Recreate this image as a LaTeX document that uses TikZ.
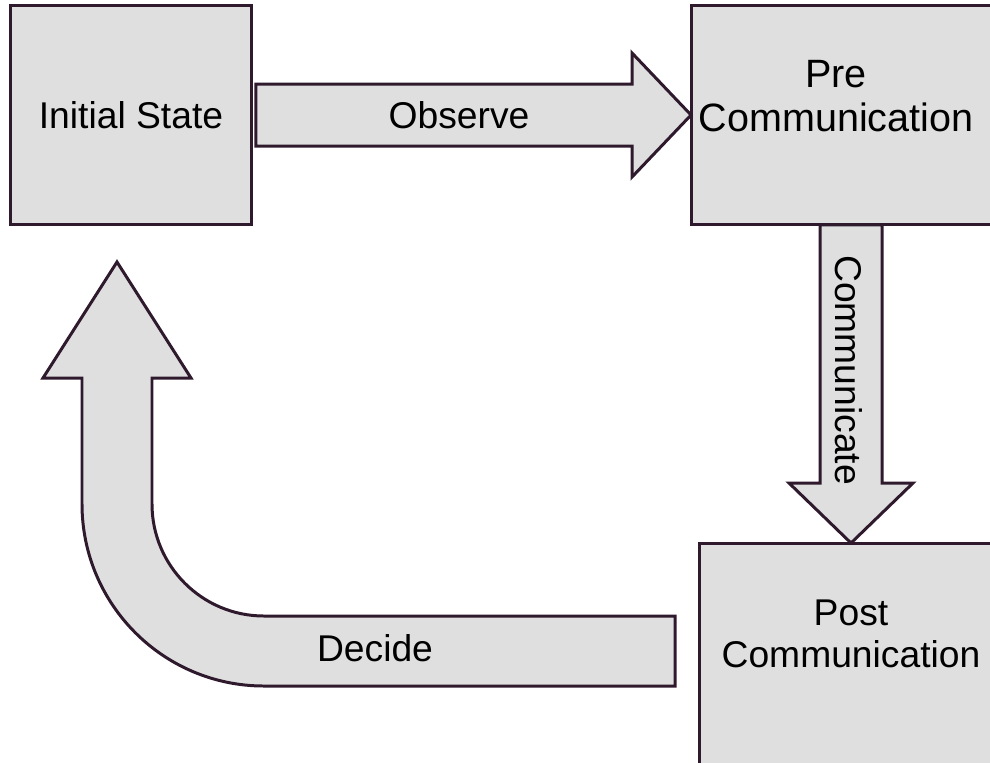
\documentclass[tikz,border=0pt]{standalone}
\usepackage{fontspec}
\setmainfont{Liberation Sans}
\usetikzlibrary{calc}
\definecolor{boxgray}{HTML}{DFDFDF}
\definecolor{edgeplum}{HTML}{2E1A2C}
\tikzset{
  statebox/.style={draw=edgeplum, fill=boxgray, line width=1.7pt, rectangle, outer sep=0pt, inner sep=0pt},
  blockarrow/.style={draw=edgeplum, fill=boxgray, line width=1.7pt, line join=miter},
  lbl/.style={font=\fontsize{21.2}{24}\selectfont, align=center, inner sep=0pt},
  biglbl/.style={lbl, font=\fontsize{22.5}{25.5}\selectfont}
}
\begin{document}
\begin{tikzpicture}[x=0.02cm, y=-0.02cm]
  \useasboundingbox (0,0) rectangle (990,762);
  \clip (0,0) rectangle (990,762);
  \node[statebox, lbl, minimum width=4.84cm, minimum height=4.4cm] (init) at (131,115) {Initial State};
  \node[statebox, minimum width=6.4cm, minimum height=4.4cm] (pre) at (851,115) {};
  \node[statebox, minimum width=6.08cm, minimum height=4.74cm] (post) at (851,661.5) {};
  \node[biglbl] (pre-text) at (836,96) {Pre\\Communication};
  \node[lbl] (post-text) at (851,634) {Post\\Communication};

  \filldraw[blockarrow] ($(init.east)+(4,-31)$) -- ($(pre.west)+(-59,-31)$) -- ($(pre.west)+(-59,-62)$) -- (pre.west)
    -- ($(pre.west)+(-59,62)$) -- ($(pre.west)+(-59,31)$) -- ($(init.east)+(4,31)$) -- cycle;
  \node[lbl] (observe) at (459,115) {Observe};

  \filldraw[blockarrow] ($(pre.south)+(-31,0)$) -- ($(post.north)+(-31,-60)$) -- ($(post.north)+(-62,-60)$) -- (post.north)
    -- ($(post.north)+(62,-60)$) -- ($(post.north)+(31,-60)$) -- ($(pre.south)+(31,0)$) -- cycle;
  \node[lbl, rotate=-90] (communicate) at (849,370) {Communicate};

  \coordinate (d-end) at ($(post.west)+(-24,-10.5)$);
  \coordinate (d-tip) at ($(init.south)+(-14,37)$);
  \filldraw[blockarrow] ($(d-end)+(0,-35)$) -- (264,616) arc[start angle=90, end angle=180, radius=112]
    -- (152,378) -- (191,378) -- (d-tip) -- (43,378) -- (82,378) -- (82,504)
    arc[start angle=180, end angle=90, radius=182] -- ($(d-end)+(0,35)$) -- cycle;
  \node[lbl] (decide) at (375,648) {Decide};
\end{tikzpicture}
\end{document}
